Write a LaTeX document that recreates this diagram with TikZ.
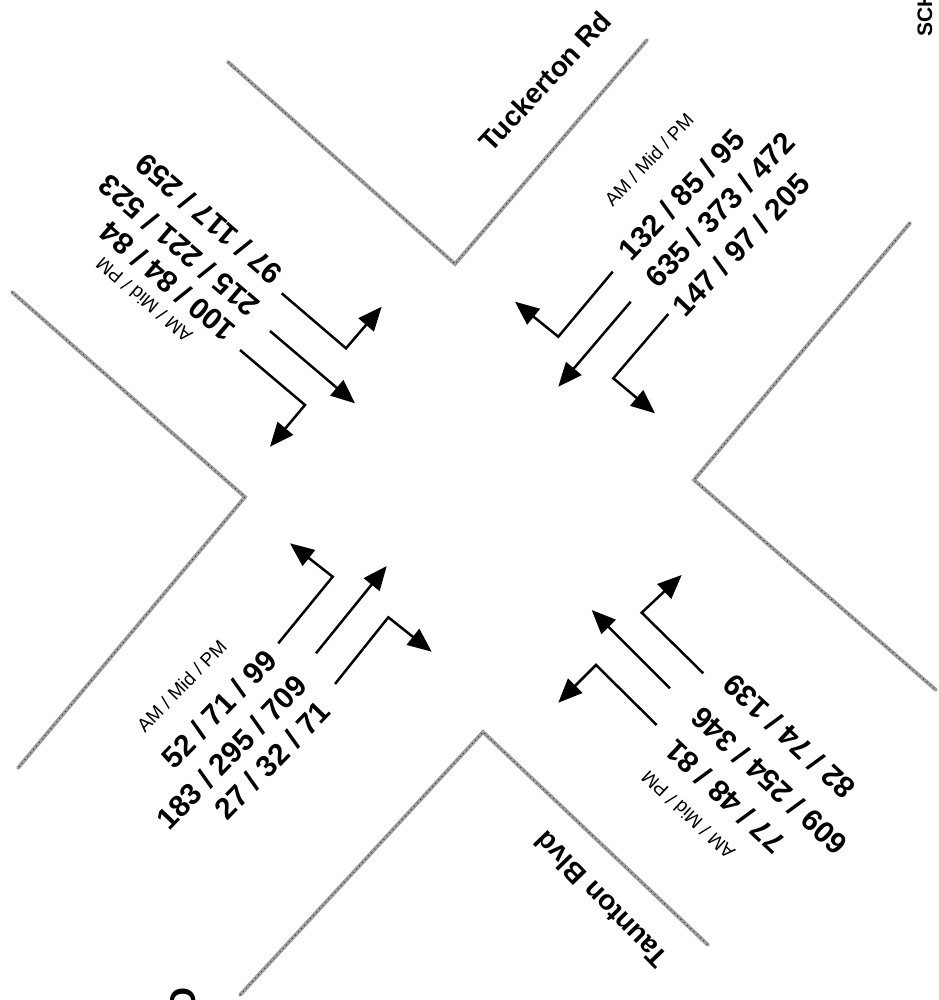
\documentclass[tikz,border=0pt]{standalone}
\usepackage{fontspec}
\setmainfont{Liberation Sans}
\usetikzlibrary{arrows.meta}
\begin{document}
\begin{tikzpicture}[x=1pt,y=-1pt,
  curb/.style={draw=black!38, line width=3.8pt, line cap=round, line join=miter},
  curbtex/.style={draw=black!80, line width=1pt, dash pattern=on 1pt off 3.5pt},
  mov/.style={draw=black, line width=2.5pt, line join=miter, -{Triangle[length=24pt,width=20pt]}},
  vol/.style={font=\fontsize{30}{30}\selectfont\bfseries, inner sep=0pt},
  per/.style={font=\fontsize{19}{19}\selectfont, inner sep=0pt},
  road/.style={font=\fontsize{28}{28}\selectfont\bfseries, inner sep=0pt}]
\useasboundingbox (0,0) rectangle (938,1000);

% curbs
\coordinate (n1) at (228,62);  \coordinate (nc) at (455,264); \coordinate (n2) at (647,40);
\coordinate (w1) at (12,292);  \coordinate (wc) at (245,497); \coordinate (w2) at (18,768);
\coordinate (e1) at (910,223); \coordinate (ec) at (694,480); \coordinate (e2) at (936,690);
\coordinate (s1) at (240,995); \coordinate (sc) at (483,732); \coordinate (s2) at (708,945);
\foreach \a/\b/\c in {n1/nc/n2, w1/wc/w2, e1/ec/e2, s1/sc/s2}{
  \draw[curb] (\a) -- (\b) -- (\c);
  \draw[curbtex] (\a) -- (\b) -- (\c);
}

% NW approach
\coordinate (a1s) at (281.7,293.3); \coordinate (a1k) at (346,348.3); \coordinate (a1e) at (381.7,306.7);
\coordinate (a2s) at (270,331);     \coordinate (a2e) at (355,403.3);
\coordinate (a3s) at (240,350);     \coordinate (a3k) at (305,405);   \coordinate (a3e) at (270,446.7);
\draw[mov] (a1s) -- (a1k) -- (a1e);
\draw[mov] (a2s) -- (a2e);
\draw[mov] (a3s) -- (a3k) -- (a3e);
\node[per, rotate=139.5] (nwp) at (144,300) {AM / Mid / PM};
\node[vol, rotate=139.5] (nw1) at (167.5,281.7) {100 / 84 / 84};
\node[vol, rotate=139.5] (nw2) at (179,246) {215 / 221 / 523};
\node[vol, rotate=139.5] (nw3) at (209,219) {97 / 117 / 259};

% NE approach
\coordinate (b1s) at (612.7,271.7); \coordinate (b1k) at (558.3,336.7); \coordinate (b1e) at (515,301.7);
\coordinate (b2s) at (630.7,301.7); \coordinate (b2e) at (558.3,386.7);
\coordinate (b3s) at (668.3,314);   \coordinate (b3k) at (613.3,378.3); \coordinate (b3e) at (655,413.3);
\draw[mov] (b1s) -- (b1k) -- (b1e);
\draw[mov] (b2s) -- (b2e);
\draw[mov] (b3s) -- (b3k) -- (b3e);
\node[per, rotate=46.5] (nep) at (649,160) {AM / Mid / PM};
\node[vol, rotate=46.5] (ne1) at (681.7,195) {132 / 85 / 95};
\node[vol, rotate=46.5] (ne2) at (720,210) {635 / 373 / 472};
\node[vol, rotate=46.5] (ne3) at (741,245) {147 / 97 / 205};

% SW approach
\coordinate (c1s) at (278.3,643.3); \coordinate (c1k) at (332.7,576.7); \coordinate (c1e) at (290,543.3);
\coordinate (c2s) at (316,653.3);   \coordinate (c2e) at (386.7,566);
\coordinate (c3s) at (335,684);     \coordinate (c3k) at (388.3,617.3); \coordinate (c3e) at (431.7,651.7);
\draw[mov] (c1s) -- (c1k) -- (c1e);
\draw[mov] (c2s) -- (c2e);
\draw[mov] (c3s) -- (c3k) -- (c3e);
\node[per, rotate=46] (swp) at (181.7,686) {AM / Mid / PM};
\node[vol, rotate=46] (sw1) at (219,709) {52 / 71 / 99};
\node[vol, rotate=46] (sw2) at (231.7,752.5) {183 / 295 / 709};
\node[vol, rotate=46] (sw3) at (272.5,760) {27 / 32 / 71};

% SE approach
\coordinate (d1s) at (656.7,725);   \coordinate (d1k) at (596,665);   \coordinate (d1e) at (558.3,702.7);
\coordinate (d2s) at (670,688.3);   \coordinate (d2e) at (591.7,610);
\coordinate (d3s) at (703.3,673.3); \coordinate (d3k) at (641.7,612.7); \coordinate (d3e) at (681.7,575);
\draw[mov] (d1s) -- (d1k) -- (d1e);
\draw[mov] (d2s) -- (d2e);
\draw[mov] (d3s) -- (d3k) -- (d3e);
\node[per, rotate=137] (sep) at (688,815) {AM / Mid / PM};
\node[vol, rotate=137] (se1) at (725,796.7) {77 / 48 / 81};
\node[vol, rotate=137] (se2) at (769,781) {609 / 254 / 346};
\node[vol, rotate=137] (se3) at (789,736.7) {82 / 74 / 139};

% road names
\node[road, rotate=47] (tuck) at (545,81) {Tuckerton Rd};
\node[road, rotate=134] (taun) at (601,900) {Taunton Blvd};

% cut-off texts at the edges
\node[font=\fontsize{21}{21}\selectfont\bfseries, inner sep=0pt, rotate=90, anchor=base west] (sch) at (932,37) {SCH};
\node[font=\fontsize{36}{36}\selectfont\bfseries, inner sep=0pt, rotate=90, anchor=base west] (bot) at (195,1016) {O};
\end{tikzpicture}
\end{document}
